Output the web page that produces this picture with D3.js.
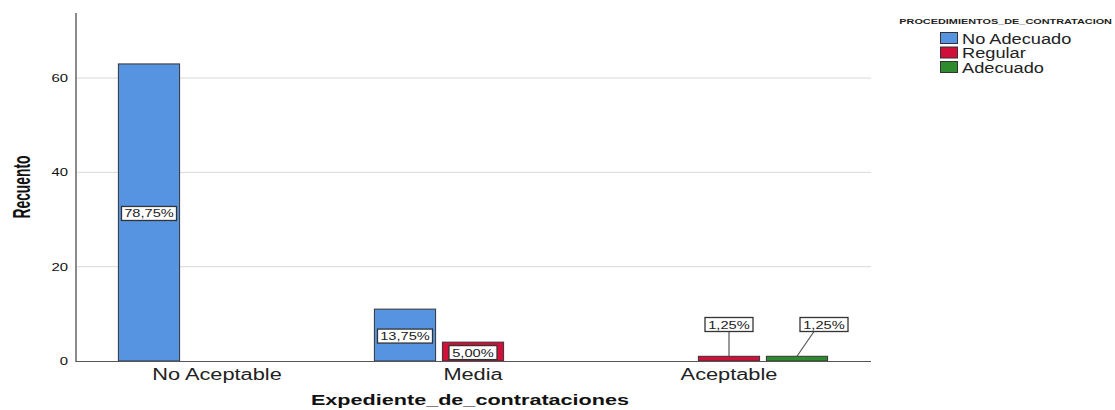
<!DOCTYPE html>
<html>
<head>
<meta charset="utf-8">
<script src="https://cdn.jsdelivr.net/npm/d3@7"></script>
<style>
  body { margin: 0; background: #fff; }
  text { font-family: "Liberation Sans", Arial, sans-serif; }
</style>
</head>
<body>
<script>
// Data
const categories = ['No Aceptable', 'Media', 'Aceptable'];
const series = ['No Adecuado', 'Regular', 'Adecuado'];
const colors = ['#5694E2', '#D20F3A', '#2E8B2E'];
// counts per category, one array per series (0 = no bar)
const noAdecuado = [63, 11, 0];
const regular = [0, 4, 1];
const adecuado = [0, 0, 1];
const percentLabels = [['78,75%', '', ''], ['13,75%', '5,00%', ''], ['', '1,25%', '1,25%']];
const yTicks = [0, 20, 40, 60];

const width = 1115, height = 410;
const svg = d3.select('body').append('svg')
    .attr('width', width)
    .attr('height', height);

// the original picture is stretched sideways, so widen the text the same way
function stretch(sel, k) {
    sel.each(function () {
        const w = this.getComputedTextLength();
        d3.select(this).attr('textLength', w * k).attr('lengthAdjust', 'spacingAndGlyphs');
    });
}

const values = [noAdecuado, regular, adecuado];
const rows = [];
categories.forEach((c, i) => {
    series.forEach((s, j) => {
        if (values[j][i] > 0) rows.push({ cat: c, ser: s, si: j, v: values[j][i], label: percentLabels[i][j] });
    });
});

const x0 = d3.scaleBand().domain(categories).range([89, 857]);
const x1 = d3.scaleBand().domain(series).range([-102, 102]).paddingInner(0.1).paddingOuter(0.05);
const y = d3.scaleLinear().domain([0, 73.8]).range([361, 13]);

// gridlines
svg.append('g')
    .selectAll('line')
    .data(yTicks.filter(t => t > 0))
    .enter().append('line')
    .attr('x1', 76).attr('x2', 871)
    .attr('y1', d => y(d)).attr('y2', d => y(d))
    .attr('stroke', '#d9d9d9').attr('stroke-width', 1);

// y axis
const yAxis = svg.append('g')
    .attr('transform', 'translate(76,0)')
    .call(d3.axisLeft(y).tickValues(yTicks).tickSize(0).tickPadding(8));
yAxis.select('.domain').remove();
yAxis.selectAll('text')
    .attr('font-size', 11)
    .attr('fill', '#111')
    .call(stretch, 1.35);

// bars
svg.append('g')
    .selectAll('rect')
    .data(rows)
    .enter().append('rect')
    .attr('x', d => x0(d.cat) + x0.bandwidth() / 2 + x1(d.ser))
    .attr('y', d => y(d.v))
    .attr('width', x1.bandwidth())
    .attr('height', d => y(0) - y(d.v))
    .attr('fill', d => colors[d.si])
    .attr('stroke', '#333')
    .attr('stroke-width', 1);

// axis lines
svg.append('line')
    .attr('x1', 76).attr('x2', 76).attr('y1', 13).attr('y2', 362)
    .attr('stroke', '#8a8a8a').attr('stroke-width', 2);
svg.append('line')
    .attr('x1', 76).attr('x2', 871).attr('y1', 361.5).attr('y2', 361.5)
    .attr('stroke', '#555').attr('stroke-width', 1.2);

// x axis labels
const xAxis = svg.append('g')
    .attr('transform', 'translate(0,361)')
    .call(d3.axisBottom(x0).tickSize(0).tickPadding(8));
xAxis.select('.domain').remove();
xAxis.selectAll('text')
    .attr('font-size', 16)
    .attr('fill', '#222')
    .call(stretch, 1.36);

// percentage labels
const labelG = svg.append('g');
rows.filter(d => d.label).forEach(d => {
    const cx = x0(d.cat) + x0.bandwidth() / 2 + x1(d.ser) + x1.bandwidth() / 2;
    const big = (y(0) - y(d.v)) > 15;
    const bh = 14;
    let bx = cx, by;
    if (big) {
        by = (y(d.v) + y(0)) / 2 + 1;
    } else if (d.cat === 'Media') {
        by = (y(d.v) + y(0)) / 2 + 2;
    } else {
        by = 324.5;
        if (d.si === 2) bx = cx + 27;
        labelG.append('line')
            .attr('x1', d.si === 2 ? bx - 10 : bx).attr('y1', by + bh / 2)
            .attr('x2', cx).attr('y2', y(d.v))
            .attr('stroke', '#555').attr('stroke-width', 1.2);
    }
    const w = d.label.length > 5 ? 55 : 48;
    labelG.append('rect')
        .attr('x', bx - w / 2).attr('y', by - bh / 2)
        .attr('width', w).attr('height', bh)
        .attr('fill', '#fff').attr('stroke', '#333').attr('stroke-width', 1.3);
    labelG.append('text')
        .attr('x', bx).attr('y', by + 4)
        .attr('text-anchor', 'middle')
        .attr('font-size', 11)
        .attr('fill', '#222')
        .text(d.label)
        .call(stretch, 1.33);
});

// axis titles
svg.append('text')
    .attr('transform', 'translate(30,187) rotate(-90)')
    .attr('text-anchor', 'middle')
    .attr('font-weight', 'bold')
    .attr('font-size', 23)
    .attr('fill', '#111')
    .attr('textLength', 63)
    .attr('lengthAdjust', 'spacingAndGlyphs')
    .text('Recuento');

svg.append('text')
    .attr('x', 470).attr('y', 405)
    .attr('text-anchor', 'middle')
    .attr('font-weight', 'bold')
    .attr('font-size', 15)
    .attr('fill', '#111')
    .text('Expediente_de_contrataciones')
    .call(stretch, 1.44);

// legend
const legend = svg.append('g');
legend.append('text')
    .attr('x', 1112).attr('y', 24)
    .attr('text-anchor', 'end')
    .attr('font-weight', 'bold')
    .attr('font-size', 7.5)
    .attr('fill', '#222')
    .text('PROCEDIMIENTOS_DE_CONTRATACION')
    .call(stretch, 1.45);
series.forEach((s, i) => {
    legend.append('rect')
        .attr('x', 940.5).attr('y', 32.5 + i * 14.5)
        .attr('width', 17).attr('height', 11)
        .attr('fill', colors[i])
        .attr('stroke', '#333').attr('stroke-width', 1);
    legend.append('text')
        .attr('x', 962).attr('y', 43.5 + i * 14.5)
        .attr('font-size', 14)
        .attr('fill', '#222')
        .text(s)
        .call(stretch, 1.3);
});
</script>
</body>
</html>
